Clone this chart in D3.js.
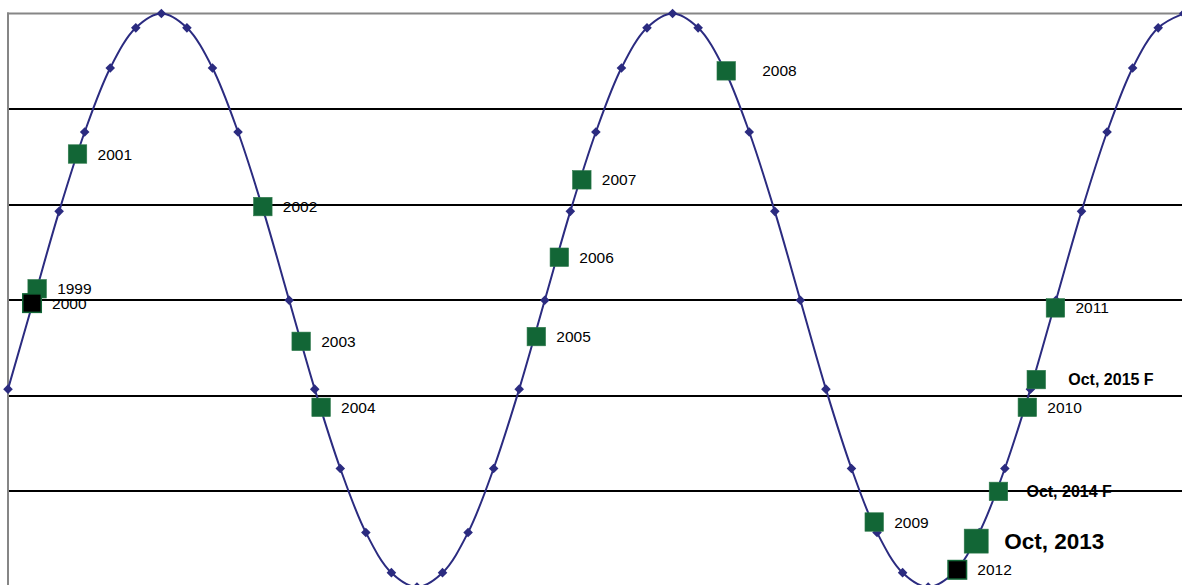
<!DOCTYPE html>
<html>
<head>
<meta charset="utf-8">
<script src="https://cdn.jsdelivr.net/npm/d3@7/dist/d3.min.js"></script>
<style>
  html, body { margin: 0; padding: 0; background: #fff; }
  svg { display: block; font-family: "Liberation Sans", Arial, sans-serif; }
</style>
</head>
<body>
<svg id="chart" width="1182" height="585"></svg>
<script>
// ---- Data ----
// Cycle curve values, one point per step
const waveValues = [
  2.07, 3.00, 3.93, 4.76, 5.43, 5.85, 6.00, 5.85, 5.43, 4.76,
  3.93, 3.00, 2.07, 1.24, 0.57, 0.15, 0.00, 0.15, 0.57, 1.24,
  2.07, 3.00, 3.93, 4.76, 5.43, 5.85, 6.00, 5.85, 5.43, 4.76,
  3.93, 3.00, 2.07, 1.24, 0.57, 0.15, 0.00, 0.15, 0.57, 1.24,
  2.07, 3.00, 3.93, 4.76, 5.43, 5.85, 6.00
];
// Year markers
const yearLabels = ["1999", "2000", "2001", "2002", "2003", "2004", "2005", "2006", "2007",
  "2008", "2009", "2010", "2011", "2012", "Oct, 2013", "Oct, 2014 F", "Oct, 2015 F"];
const yearX = [1.14, 0.94, 2.72, 9.97, 11.47, 12.25, 20.67, 21.57, 22.45,
  28.10, 33.89, 39.88, 40.98, 37.14, 37.88, 38.75, 40.23];
const yearY = [3.12, 2.97, 4.53, 3.98, 2.57, 1.88, 2.62, 3.45, 4.26,
  5.40, 0.68, 1.88, 2.92, 0.18, 0.48, 1.00, 2.17];
const gridValues = [1, 2, 3, 4, 5];

// ---- Styling / layout ----
const W = 1182, H = 585;
const navy = "#2b2b80";
const green = "#126636";
const blackMarkers = ["2000", "2012"];
const bigMarker = "Oct, 2013";
const boldLabels = ["Oct, 2013", "Oct, 2014 F", "Oct, 2015 F"];
const labelDx = { "2008": 36, "Oct, 2013": 28, "Oct, 2014 F": 28, "Oct, 2015 F": 32 };

const svg = d3.select("#chart");

const x = d3.scaleLinear().domain([0, waveValues.length - 1]).range([8, 8 + 46 * 25.56]);
const y = d3.scaleLinear().domain([0, 6]).range([587, 13.5]);

// Gridlines
svg.append("g").selectAll("line").data(gridValues).join("line")
  .attr("x1", 8).attr("x2", W)
  .attr("y1", d => Math.round(y(d))).attr("y2", d => Math.round(y(d)))
  .attr("stroke", "#000").attr("stroke-width", 2);

// Plot border (top & left visible)
svg.append("line").attr("x1", 7).attr("x2", W).attr("y1", 13.5).attr("y2", 13.5)
  .attr("stroke", "#868686").attr("stroke-width", 2);
svg.append("line").attr("x1", 8).attr("x2", 8).attr("y1", 12.5).attr("y2", H)
  .attr("stroke", "#868686").attr("stroke-width", 2);

// Curve
const line = d3.line().x((d, i) => x(i)).y(d => y(d)).curve(d3.curveCatmullRom.alpha(0.5));
svg.append("path").datum(waveValues)
  .attr("d", line).attr("fill", "none").attr("stroke", navy).attr("stroke-width", 2);

// Diamonds
const diamond = d3.symbol().type(d3.symbolSquare).size(46);
svg.append("g").selectAll("path").data(waveValues).join("path")
  .attr("d", diamond)
  .attr("transform", (d, i) => `translate(${x(i)},${y(d)}) rotate(45)`)
  .attr("fill", navy);

// Year markers
const years = yearLabels.map((label, i) => ({ label, xv: yearX[i], yv: yearY[i] }));
const mg = svg.append("g");
years.forEach(d => {
  const s = d.label === bigMarker ? 24 : 18.5;
  const isBlack = blackMarkers.includes(d.label);
  mg.append("rect")
    .attr("x", x(d.xv) - s / 2).attr("y", y(d.yv) - s / 2)
    .attr("width", s).attr("height", s)
    .attr("fill", isBlack ? "#000" : green)
    .attr("stroke", isBlack ? green : "#2f7a4c").attr("stroke-width", isBlack ? 1.5 : 0.6);
});

// Labels
years.forEach(d => {
  const bold = boldLabels.includes(d.label);
  const fs = d.label === bigMarker ? 22.5 : (bold ? 16 : 15.5);
  const dx = labelDx[d.label] !== undefined ? labelDx[d.label] : 20;
  svg.append("text")
    .attr("x", x(d.xv) + dx)
    .attr("y", y(d.yv) + fs * 0.36)
    .attr("font-size", fs)
    .attr("font-weight", bold ? "bold" : "normal")
    .attr("fill", "#000")
    .text(d.label);
});
</script>
</body>
</html>
